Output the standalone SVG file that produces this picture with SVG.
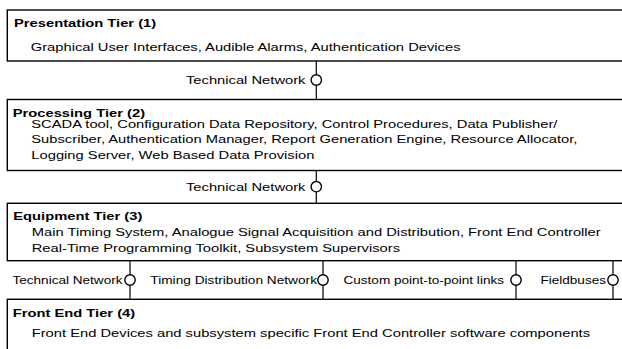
<svg xmlns="http://www.w3.org/2000/svg" width="622" height="349" viewBox="0 0 622 349">
<style>
.box{fill:#fff;stroke:#000;stroke-width:1.4}
.t{font-family:"Liberation Sans",Arial,sans-serif;font-size:11.7px;fill:#000}
.b{font-weight:bold}
.e{text-anchor:end}
.ln{stroke:#000;stroke-width:1.2;fill:none}
.pt{fill:#fff;stroke:#000;stroke-width:1.4}
</style>
<rect width="622" height="349" fill="#fff"/>
<g id="connectors">
<line class="ln" x1="316.3" y1="61" x2="316.3" y2="99.5"/>
<circle class="pt" cx="316.3" cy="80" r="5.2"/>
<text class="t e" transform="translate(305.5 84) scale(1.26 1)">Technical Network</text>
<line class="ln" x1="316.3" y1="170.5" x2="316.3" y2="203.3"/>
<circle class="pt" cx="316.3" cy="186.7" r="5.2"/>
<text class="t e" transform="translate(305.5 190.7) scale(1.26 1)">Technical Network</text>
<line class="ln" x1="130" y1="260.7" x2="130" y2="299.3"/>
<circle class="pt" cx="130" cy="280" r="5.2"/>
<text class="t e" transform="translate(122.5 284) scale(1.16 1)">Technical Network</text>
<line class="ln" x1="323" y1="260.7" x2="323" y2="299.3"/>
<circle class="pt" cx="323" cy="280" r="5.2"/>
<text class="t e" transform="translate(317 284) scale(1.17 1)">Timing Distribution Network</text>
<line class="ln" x1="516" y1="260.7" x2="516" y2="299.3"/>
<circle class="pt" cx="516" cy="280" r="5.2"/>
<text class="t e" transform="translate(504 284) scale(1.16 1)">Custom point-to-point links</text>
<line class="ln" x1="613" y1="260.7" x2="613" y2="299.3"/>
<circle class="pt" cx="613" cy="280" r="5.2"/>
<text class="t e" transform="translate(606 284) scale(1.16 1)">Fieldbuses</text>
</g>
<g id="presentation-tier">
<rect class="box" x="7.3" y="10" width="630" height="51"/>
<text class="t b" transform="translate(14 27.3) scale(1.26 1)">Presentation Tier (1)</text>
<text class="t" transform="translate(30.7 50.7) scale(1.26 1)">Graphical User Interfaces, Audible Alarms, Authentication Devices</text>
</g>
<g id="processing-tier">
<rect class="box" x="7.3" y="99.5" width="630" height="71"/>
<text class="t b" transform="translate(12.7 116.5) scale(1.26 1)">Processing Tier (2)</text>
<text class="t" transform="translate(31.3 127.8) scale(1.26 1)">SCADA tool, Configuration Data Repository, Control Procedures, Data Publisher/</text>
<text class="t" transform="translate(31.3 143.3) scale(1.26 1)">Subscriber, Authentication Manager, Report Generation Engine, Resource Allocator,</text>
<text class="t" transform="translate(31.3 159) scale(1.26 1)">Logging Server, Web Based Data Provision</text>
</g>
<g id="equipment-tier">
<rect class="box" x="7.3" y="203.3" width="630" height="57.4"/>
<text class="t b" transform="translate(13.3 220.3) scale(1.26 1)">Equipment Tier (3)</text>
<text class="t" transform="translate(31.7 236) scale(1.26 1)">Main Timing System, Analogue Signal Acquisition and Distribution, Front End Controller</text>
<text class="t" transform="translate(31.7 251.7) scale(1.26 1)">Real-Time Programming Toolkit, Subsystem Supervisors</text>
</g>
<g id="front-end-tier">
<rect class="box" x="7.3" y="299.3" width="630" height="70"/>
<text class="t b" transform="translate(12.7 316.7) scale(1.26 1)">Front End Tier (4)</text>
<text class="t" transform="translate(31.7 336.7) scale(1.26 1)">Front End Devices and subsystem specific Front End Controller software components</text>
</g>
</svg>
